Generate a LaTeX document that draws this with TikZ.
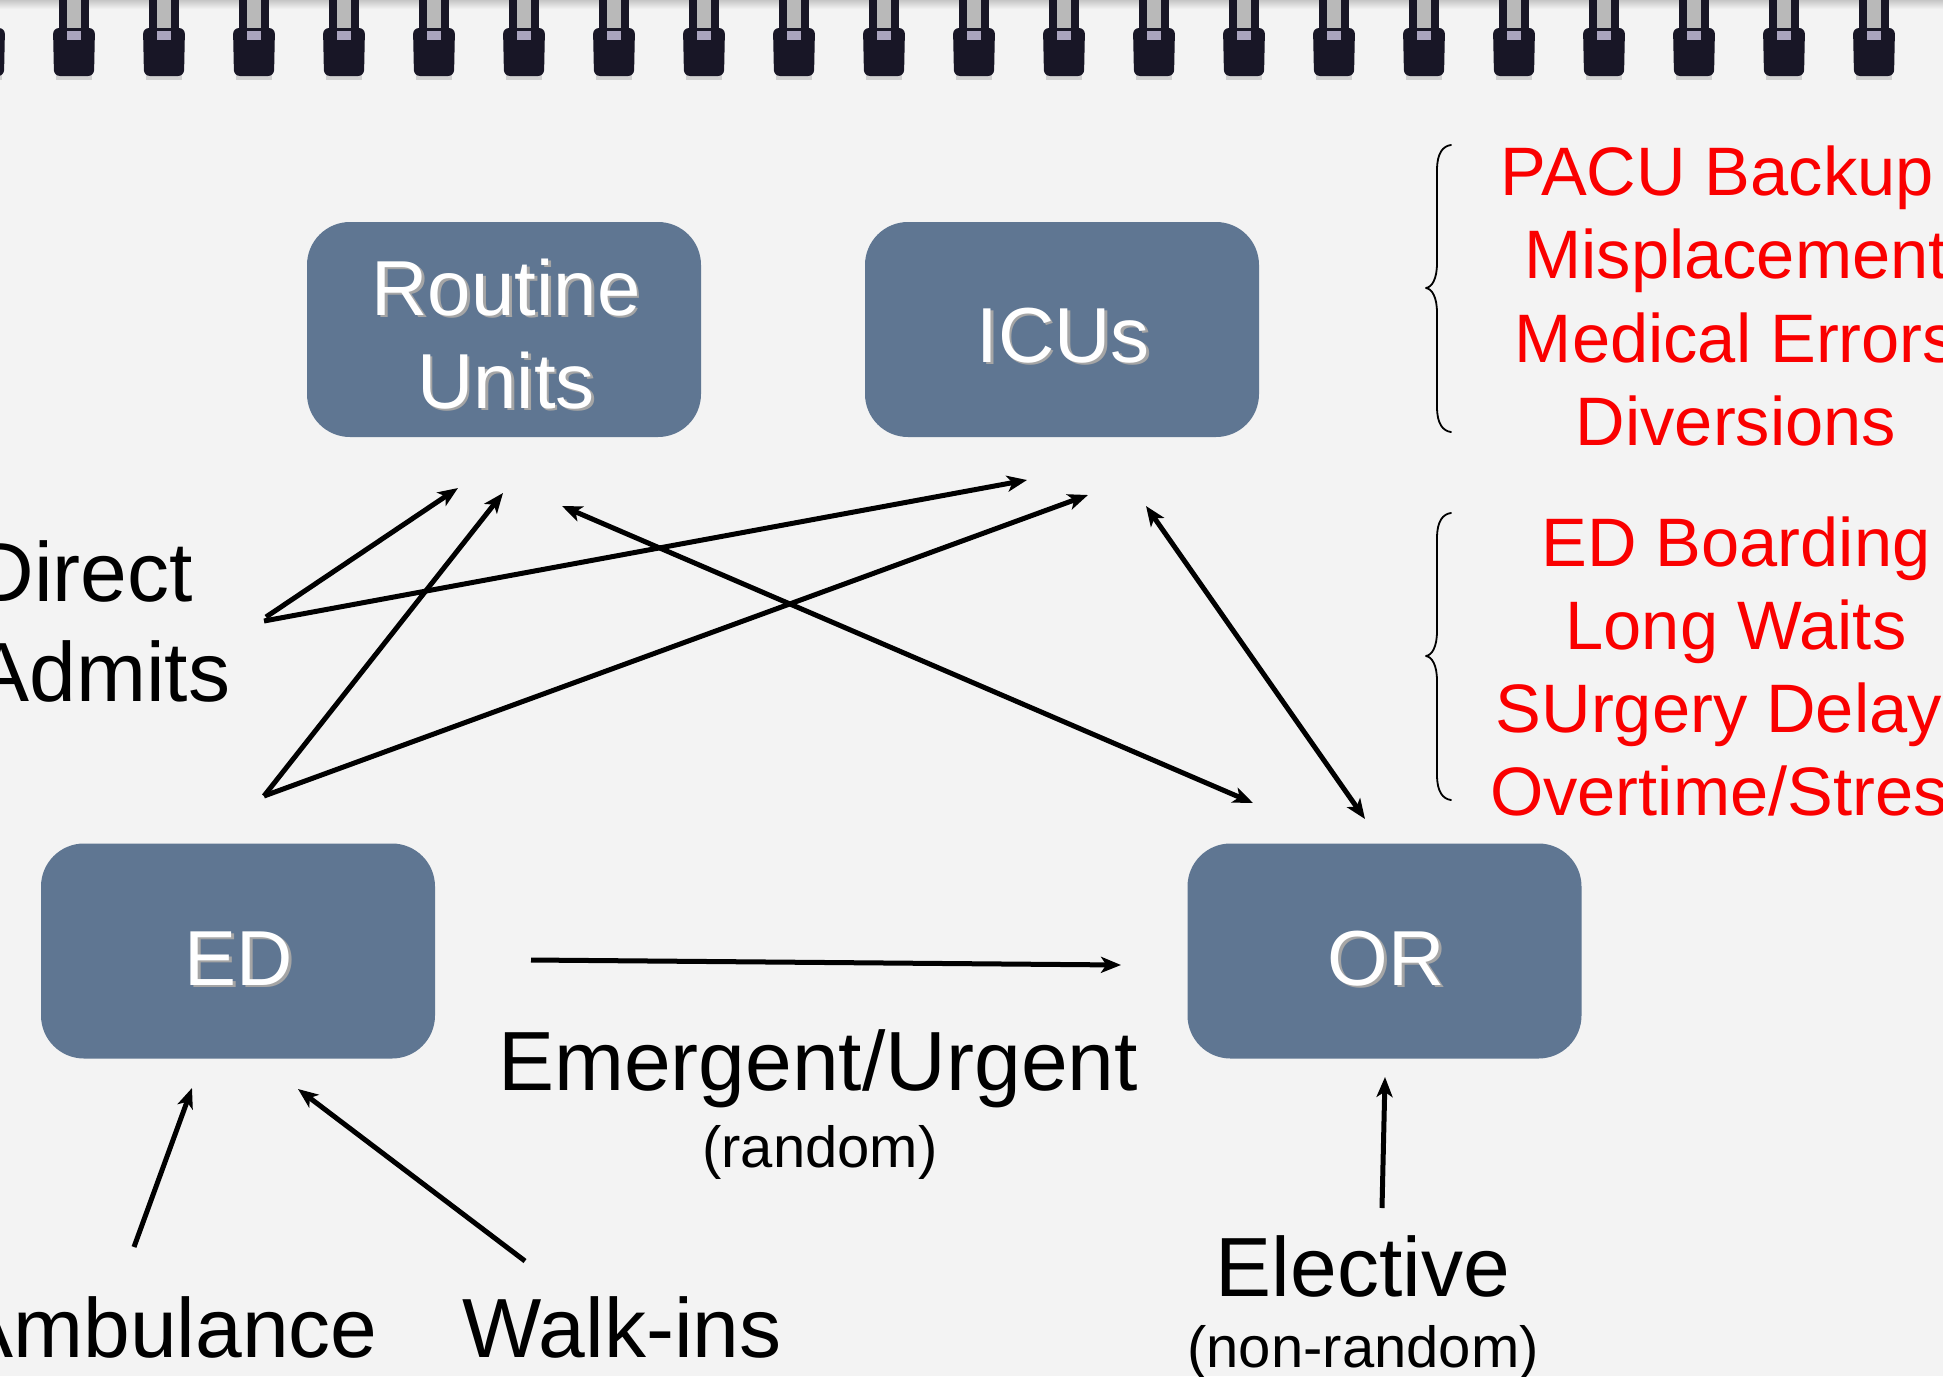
\documentclass[tikz,border=0pt]{standalone}
\usepackage{fontspec}
\setmainfont{Liberation Sans}
\usetikzlibrary{arrows.meta}
\definecolor{bg}{RGB}{243,243,243}
\definecolor{boxblue}{RGB}{95,118,146}
\definecolor{ringdark}{RGB}{24,22,38}
\definecolor{ringlight}{RGB}{170,164,190}
\definecolor{ringgap}{RGB}{185,185,185}
\definecolor{shadowgray}{RGB}{165,165,165}
\definecolor{alertred}{RGB}{250,0,0}
\newcommand{\shtext}[1]{\leavevmode\rlap{\hspace{1.4pt}\raisebox{-1.4pt}{\textcolor{shadowgray}{#1}}}#1}
\begin{document}
\begin{tikzpicture}[x=0.5pt,y=-0.5pt,
  box/.style={draw=none, fill=boxblue, rounded corners=21.5pt, minimum width=197pt, minimum height=107.5pt, inner sep=0pt},
  boxlabel/.style={text=white, font=\fontsize{39}{46}\selectfont, anchor=base, inner sep=0pt},
  biglabel/.style={font=\fontsize{42}{50}\selectfont, inner sep=0pt},
  smalllabel/.style={font=\fontsize{29}{34}\selectfont, anchor=base, inner sep=0pt},
  alert/.style={text=alertred, font=\fontsize{34.3}{41}\selectfont, anchor=base, inner sep=0pt},
  flow/.style={line width=2.5pt, -{Stealth[length=10pt,width=8pt,inset=2.6pt]}},
  twoway/.style={line width=2.5pt, {Stealth[length=10pt,width=8pt,inset=2.6pt]}-{Stealth[length=10pt,width=8pt,inset=2.6pt]}},
  bracepath/.style={line width=0.9pt, line cap=round, line join=round},
  sidebrace/.pic={\draw[bracepath] (0,0) .. controls (-8,1) and (-14,8) .. (-14,25) -- (-14,118) .. controls (-14,134) and (-19,142) .. (-25,143) .. controls (-19,144) and (-14,152) .. (-14,168) -- (-14,262) .. controls (-14,279) and (-8,286) .. (0,287);}
]
\useasboundingbox (0,0) rectangle (1943,1376);
\clip (0,0) rectangle (1943,1376);
\fill[bg] (0,0) rectangle (1943,1376);
\shade[top color=gray!45, bottom color=bg] (0,0) rectangle (1943,9);

% spiral binding
\foreach \k in {-1,...,21}{
  \pgfmathsetmacro\cx{74+90*\k}
  \fill[ringgap] (\cx-8,0) rectangle (\cx+8,34);
  \fill[ringdark] (\cx-15,0) rectangle (\cx-7,36);
  \fill[ringdark] (\cx+7,0) rectangle (\cx+15,36);
  \fill[gray!35] (\cx-18,74) rectangle (\cx+18,80);
  \fill[ringdark, rounded corners=3pt] (\cx-21,28) -- (\cx+21,28) -- (\cx+20,76) -- (\cx-20,76) -- cycle;
  \fill[ringlight] (\cx-7,31) rectangle (\cx+7,40);
}

% boxes
\node[box] (RU) at (504,329.5) {};
\node[box] (ICU) at (1062,329.5) {};
\node[box] (ED) at (238,951) {};
\node[box] (OR) at (1384.5,951) {};

\node[boxlabel] (RUt1) at (506,315) {\shtext{Routine}};
\node[boxlabel] (RUt2) at (506,408) {\shtext{Units}};
\node[boxlabel] (ICUt) at (1063,362) {\shtext{ICUs}};
\node[boxlabel] (EDt) at (239,985) {\shtext{ED}};
\node[boxlabel] (ORt) at (1386,985) {\shtext{OR}};

% black labels
\node[biglabel, anchor=base west] (direct) at (-27,601) {Direct};
\node[biglabel, anchor=base west] (admits) at (-27,701) {Admits};
\node[biglabel, anchor=base east] (amb) at (378,1357) {Ambulance};
\node[biglabel, anchor=base] (walk) at (622,1357) {Walk-ins};
\node[biglabel, anchor=base] (emerg) at (818,1090) {Emergent/Urgent};
\node[smalllabel] (rand) at (820,1167) {(random)};
\node[biglabel, anchor=base] (elect) at (1363,1296) {Elective};
\node[smalllabel] (nonrand) at (1363,1367) {(non-random)};

% red consequences
\node[alert, anchor=base west] (r1) at (1500,195) {PACU Backup};
\node[alert] (r2) at (1736,278) {Misplacement};
\node[alert] (r3) at (1736,362) {Medical Errors};
\node[alert] (r4) at (1736,445) {Diversions};
\node[alert] (r5) at (1736,566) {ED Boarding};
\node[alert] (r6) at (1736,649) {Long Waits};
\node[alert] (r7) at (1736,732) {SUrgery Delays};
\node[alert] (r8) at (1736,815) {Overtime/Stress};

% braces
\pic at (1451,145) {sidebrace};
\pic at (1451,513) {sidebrace};

% connector end points
\coordinate (da1) at (266,617);
\coordinate (da2) at (264,621);
\coordinate (edT) at (264,796);
\coordinate (ruA) at (458,488);
\coordinate (ruB) at (503,493);
\coordinate (ruC) at (562,506);
\coordinate (icA) at (1027,480);
\coordinate (icB) at (1088,495);
\coordinate (icC) at (1146,506);
\coordinate (orA) at (1253,803);
\coordinate (orB) at (1365,819);
\coordinate (edOut) at (531,960);
\coordinate (orIn) at (1121,965);
\coordinate (ambT) at (134,1247);
\coordinate (edA) at (192,1088);
\coordinate (wiT) at (525,1261);
\coordinate (edB) at (298,1089);
\coordinate (elT) at (1382,1208);
\coordinate (orC) at (1385,1077);

% connectors
\draw[flow] (da1) -- (ruA);
\draw[flow] (da2) -- (icA);
\draw[flow] (edT) -- (ruB);
\draw[flow] (edT) -- (icB);
\draw[twoway] (ruC) -- (orA);
\draw[twoway] (icC) -- (orB);
\draw[flow] (edOut) -- (orIn);
\draw[flow] (ambT) -- (edA);
\draw[flow] (wiT) -- (edB);
\draw[flow] (elT) -- (orC);
\end{tikzpicture}
\end{document}
